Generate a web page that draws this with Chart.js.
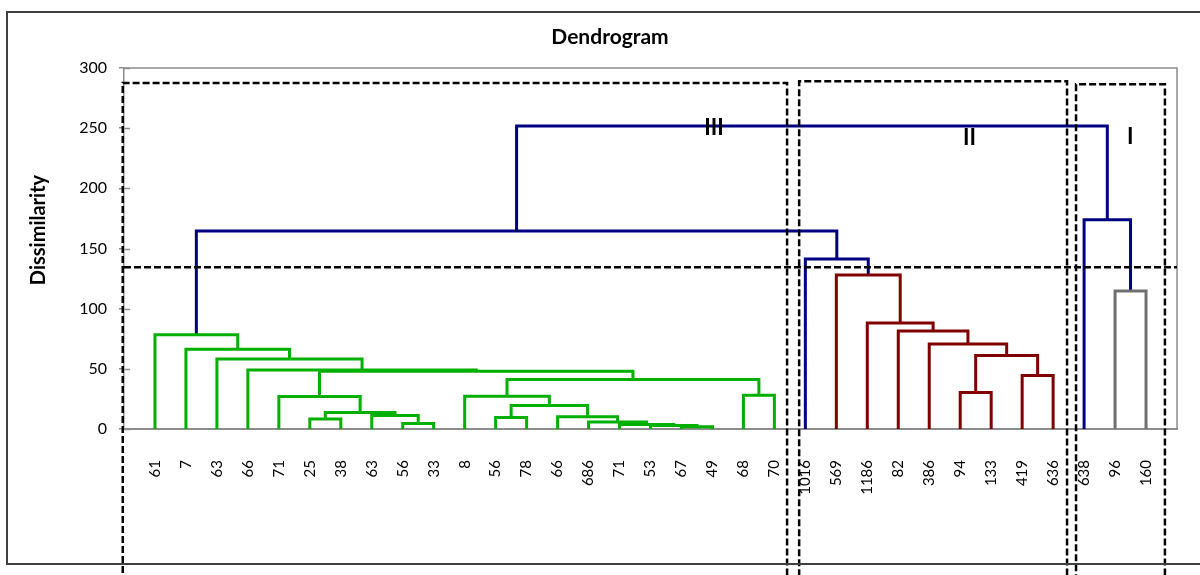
<!DOCTYPE html>
<html>
<head>
<meta charset="utf-8">
<title>Dendrogram</title>
<script src="https://cdn.jsdelivr.net/npm/chart.js@4.4.1/dist/chart.umd.min.js"></script>
<style>
  html, body { margin: 0; padding: 0; background: #fff; }
  #chart { display: block; }
</style>
</head>
<body>
<canvas id="chart" width="1200" height="575"></canvas>
<script>
// leaves in dendrogram order (x = 1..33)
const leafLabels = ['61', '7', '63', '66', '71', '25', '38', '63', '56', '33', '8', '56', '78', '66', '686',
  '71', '53', '67', '49', '68', '70', '1016', '569', '1186', '82', '386', '94', '133', '419', '636',
  '638', '96', '160'];

// linkage: ids 0..32 are leaves, merge k creates id 33 + k
const mergeLeft = [17, 16, 15, 8, 14, 5, 11, 13, 7, 38, 39, 4, 10, 19, 26, 45, 28, 44, 3, 2,
  47, 1, 25, 0, 24, 23, 31, 22, 21, 56, 30, 62];
const mergeRight = [18, 33, 34, 9, 35, 6, 12, 37, 36, 41, 40, 42, 43, 20, 27, 46, 29, 48, 50, 51,
  49, 52, 53, 54, 55, 57, 32, 58, 60, 61, 59, 63];
const mergeHeight = [1.8, 2.9, 3.7, 4.6, 5.8, 8.4, 9.5, 10.1, 11.2, 13.7, 19.5, 27.0, 27.2, 28.0, 30.3,
  41.1, 44.4, 47.9, 49.1, 58.2, 61.0, 66.2, 70.7, 78.4, 81.4, 88.1, 114.6, 127.9, 141.2, 164.6,
  173.8, 251.7];
// group of each merge: III / II / I below the cut, top above it
const mergeGroup = ['III', 'III', 'III', 'III', 'III', 'III', 'III', 'III', 'III', 'III', 'III', 'III',
  'III', 'III', 'II', 'III', 'II', 'III', 'III', 'III', 'II', 'III', 'II', 'III', 'II', 'II', 'I', 'II',
  'top', 'top', 'top', 'top'];

// cut level and the three clusters (leaf-position units)
const cutHeight = 134.5;
const clusterNames = ['III', 'II', 'I'];
const clusterFrom = [-0.04, 21.8, 30.74];
const clusterTo = [21.41, 30.45, 33.61];
const clusterTop = [287.6, 289.0, 286.5];

const groupColors = { III: '#00b000', II: '#800000', I: '#707070', top: '#000080' };

const nLeaves = leafLabels.length;
const nodeX = leafLabels.map((_, i) => i + 1);
const nodeH = leafLabels.map(() => 0);
mergeLeft.forEach((l, k) => {
  nodeX.push((nodeX[l] + nodeX[mergeRight[k]]) / 2);
  nodeH.push(mergeHeight[k]);
});

const datasets = [];

// cut line and cluster frames
datasets.push({
  data: [{ x: 0, y: cutHeight }, { x: nLeaves + 1, y: cutHeight }],
  borderColor: '#000', borderWidth: 2.5, borderDash: [7, 3]
});
clusterNames.forEach((name, i) => {
  // drawn right side first so the frame isn't trimmed at the x minimum
  datasets.push({
    data: [
      { x: clusterTo[i], y: -130 }, { x: clusterTo[i], y: clusterTop[i] },
      { x: clusterFrom[i], y: clusterTop[i] }, { x: clusterFrom[i], y: -130 }
    ],
    borderColor: '#000', borderWidth: 2.5, borderDash: [7, 3], clip: false
  });
});

// one U-shaped link per merge
mergeLeft.forEach((l, k) => {
  const r = mergeRight[k];
  const h = mergeHeight[k];
  datasets.push({
    data: [
      { x: nodeX[l], y: nodeH[l] }, { x: nodeX[l], y: h },
      { x: nodeX[r], y: h }, { x: nodeX[r], y: nodeH[r] }
    ],
    borderColor: groupColors[mergeGroup[k]], borderWidth: 3
  });
});

const FONT = 'Lato, "Liberation Sans", sans-serif';

const decorations = {
  id: 'decorations',
  beforeDatasetsDraw(chart) {
    const { ctx, chartArea: a } = chart;
    ctx.save();
    // plot frame (top and right)
    ctx.strokeStyle = '#8c8c8c';
    ctx.lineWidth = 1.5;
    ctx.beginPath();
    ctx.moveTo(a.left, a.top);
    ctx.lineTo(a.right, a.top);
    ctx.lineTo(a.right, a.bottom);
    ctx.stroke();
    // inner half of the y tick marks
    const ys = chart.scales.y;
    ys.ticks.forEach(t => {
      const py = Math.round(ys.getPixelForValue(t.value)) + 0.5;
      ctx.beginPath();
      ctx.moveTo(a.left, py);
      ctx.lineTo(a.left + 6, py);
      ctx.stroke();
    });
    ctx.restore();
  },
  afterDraw(chart) {
    const { ctx } = chart;
    const xs = chart.scales.x, ys = chart.scales.y;
    ctx.save();
    // outer border
    ctx.strokeStyle = '#404040';
    ctx.lineWidth = 2;
    ctx.strokeRect(7, 12, 1200, 552);
    // title
    ctx.fillStyle = '#000';
    ctx.textAlign = 'center';
    ctx.textBaseline = 'middle';
    ctx.font = 'bold 21px ' + FONT;
    ctx.fillText('Dendrogram', 610, 37);
    // y axis title
    ctx.save();
    ctx.translate(39, 230);
    ctx.rotate(-Math.PI / 2);
    ctx.font = 'bold 20px ' + FONT;
    ctx.fillText('Dissimilarity', 0, 0);
    ctx.restore();
    // cluster names
    ctx.font = 'bold 22px ' + FONT;
    const labelX = [19.05, 27.3, 32.49];
    const labelY = [250.1, 241.8, 243.0];
    clusterNames.forEach((name, i) => {
      ctx.fillText(name, xs.getPixelForValue(labelX[i]), ys.getPixelForValue(labelY[i]));
    });
    ctx.restore();
  }
};

new Chart(document.getElementById('chart'), {
  type: 'scatter',
  data: { datasets },
  options: {
    responsive: false,
    animation: false,
    devicePixelRatio: 1,
    showLine: true,
    layout: { padding: { left: 20, right: 23, top: 68, bottom: 0 } },
    elements: {
      point: { radius: 0, hoverRadius: 0 },
      line: { tension: 0, fill: false, borderJoinStyle: 'miter', borderCapStyle: 'butt' }
    },
    plugins: {
      legend: { display: false },
      title: { display: false },
      tooltip: { enabled: false }
    },
    scales: {
      x: {
        type: 'linear',
        min: 0,
        max: nLeaves + 1,
        afterBuildTicks: scale => { scale.ticks = leafLabels.map((_, i) => ({ value: i + 1 })); },
        afterFit: scale => { scale.height = 575 - 429; },
        grid: { display: false },
        border: { display: true, color: '#8c8c8c', width: 2 },
        ticks: {
          autoSkip: false,
          minRotation: 90,
          maxRotation: 90,
          padding: 23,
          color: '#000',
          font: { family: FONT, size: 15 },
          callback: value => leafLabels[value - 1]
        }
      },
      y: {
        min: 0,
        max: 300,
        afterFit: scale => { scale.width = 104; },
        grid: { drawOnChartArea: false, drawTicks: true, tickLength: 5, color: '#8c8c8c', lineWidth: 1.5 },
        border: { display: true, color: '#8c8c8c', width: 1.5 },
        ticks: {
          stepSize: 50,
          padding: 12,
          color: '#000',
          font: { family: FONT, size: 16 }
        }
      }
    }
  },
  plugins: [decorations]
});
</script>
</body>
</html>
